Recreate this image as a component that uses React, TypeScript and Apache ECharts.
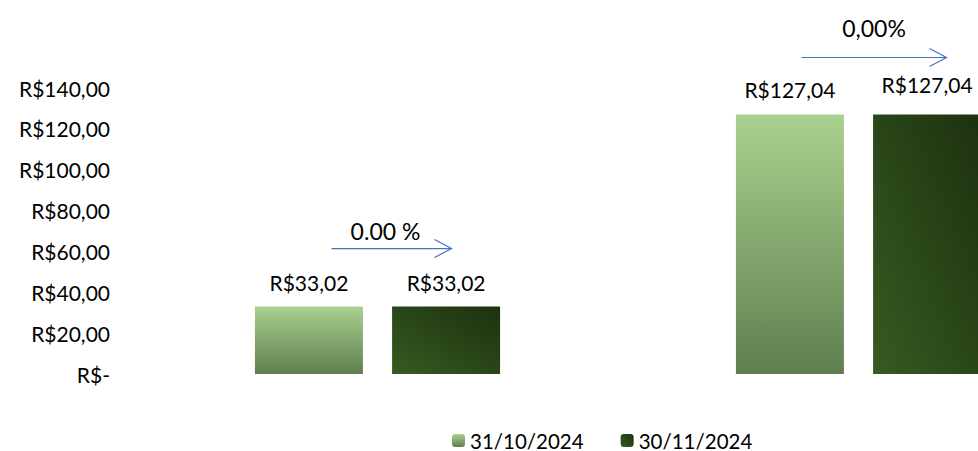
import React, { useEffect, useRef } from "react";
import * as echarts from "echarts";

const categories = ["A", "B"];
const seriesNames = ["31/10/2024", "30/11/2024"];
const valuesOct = [33.02, 127.04];
const valuesNov = [33.02, 127.04];
const yTicks = { min: 0, max: 140, interval: 20 };
const changeLabels = ["0.00 %", "0,00%"];

const fmtMoney = (v: number) =>
  v === 0 ? "R$-" : "R$" + v.toFixed(2).replace(".", ",");

const FONT = "Lato";

export default function App() {
  const ref = useRef<HTMLDivElement>(null);
  useEffect(() => {
    document.body.style.margin = "0";
    const chart = echarts.init(ref.current!, null, { renderer: "svg" });
    const lightGrad = new echarts.graphic.LinearGradient(0, 0, 0, 1, [
      { offset: 0, color: "#a9d18e" },
      { offset: 1, color: "#5f7f4f" },
    ]);
    const darkGrad = new echarts.graphic.LinearGradient(0, 1, 1, 0, [
      { offset: 0, color: "#365b21" },
      { offset: 1, color: "#1d310f" },
    ]);
    const labelStyle = {
      show: true,
      position: "top" as const,
      distance: 14,
      fontFamily: FONT,
      fontSize: 21,
      color: "#000",
      formatter: (p: any) => fmtMoney(p.value),
    };
    chart.setOption({
      animation: false,
      grid: {
        left: 137,
        top: 88,
        width: 962,
        bottom: 77,
        containLabel: false,
        outerBoundsMode: "none",
      },
      legend: {
        left: 452,
        top: 430,
        padding: 0,
        itemWidth: 13,
        itemHeight: 13,
        itemGap: 37,
        textStyle: { fontFamily: FONT, fontSize: 20.5, lineHeight: 15, color: "#000" },
        data: seriesNames,
      },
      xAxis: {
        type: "category",
        data: categories,
        axisLine: { show: false },
        axisTick: { show: false },
        axisLabel: { show: false },
      },
      yAxis: {
        type: "value",
        min: yTicks.min,
        max: yTicks.max,
        interval: yTicks.interval,
        splitLine: { show: false },
        axisLine: { show: false },
        axisTick: { show: false },
        axisLabel: {
          margin: 27,
          fontFamily: FONT,
          fontSize: 21,
          color: "#000",
          formatter: fmtMoney,
        },
      },
      series: [
        {
          name: seriesNames[0],
          type: "bar",
          barWidth: 108,
          barGap: "27%",
          data: valuesOct,
          itemStyle: { color: lightGrad },
          label: labelStyle,
        },
        {
          name: seriesNames[1],
          type: "bar",
          barWidth: 108,
          barGap: "27%",
          data: valuesNov.map((v, i) =>
            i === 1 ? { value: v, label: { distance: 19 } } : v
          ),
          itemStyle: { color: darkGrad },
          label: labelStyle,
        },
      ],
    });

    // change annotations: arrow + text above each category
    const annotOffsets = [
      { x0: -46, x1: 74, dy: -58, ty: -18 },
      { x0: -57, x1: 88, dy: -57, ty: -29 },
    ];
    const graphics: any[] = [];
    categories.forEach((c, i) => {
      const top = Math.max(valuesOct[i], valuesNov[i]);
      const [cx, py] = chart.convertToPixel({ gridIndex: 0 }, [i, top]) as number[];
      const o = annotOffsets[i];
      const y = py + o.dy;
      const xa = cx + o.x0;
      const xb = cx + o.x1;
      graphics.push(
        {
          type: "line",
          shape: { x1: xa, y1: y, x2: xb, y2: y },
          style: { stroke: "#4472c4", lineWidth: 1.2 },
        },
        {
          type: "polyline",
          shape: { points: [[xb - 17, y - 9], [xb, y], [xb - 17, y + 9]] },
          style: { stroke: "#4472c4", lineWidth: 1.2, fill: null },
        },
        {
          type: "text",
          x: (xa + xb) / 2 + (i === 0 ? -6 : 0),
          y: y + o.ty,
          style: {
            text: changeLabels[i],
            fontFamily: FONT,
            fontSize: 23,
            fill: "#000",
            align: "center",
            verticalAlign: "middle",
          },
        }
      );
    });
    chart.setOption({ graphic: graphics });
    return () => chart.dispose();
  }, []);
  return (
    <div style={{ width: 978, height: 451, overflow: "hidden" }}>
      <div ref={ref} style={{ width: 978, height: 451 }} />
    </div>
  );
}
